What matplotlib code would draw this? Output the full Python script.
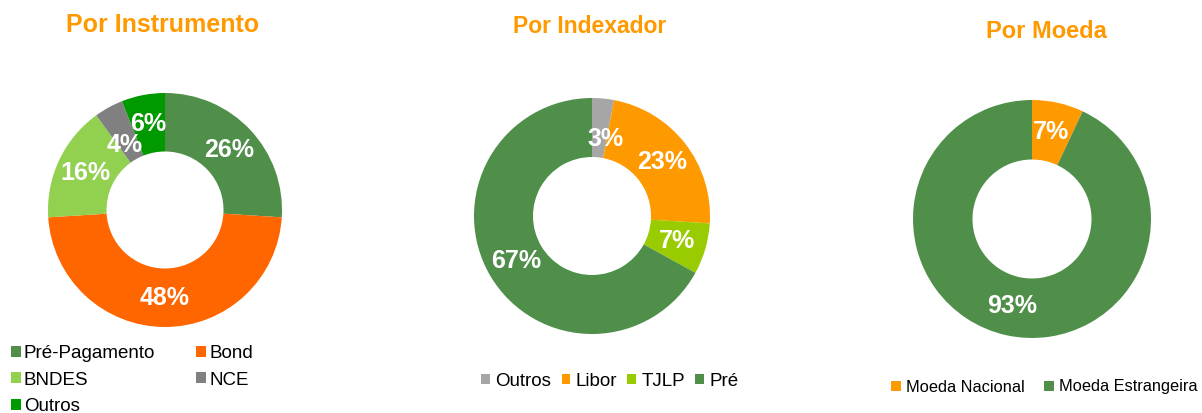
import matplotlib
matplotlib.use('Agg')
import matplotlib.pyplot as plt

plt.rcParams['font.family'] = ['Liberation Sans', 'DejaVu Sans']

# data
instr_labels = ['Pré-Pagamento', 'Bond', 'BNDES', 'NCE', 'Outros']
instr_values = [26, 48, 16, 4, 6]
instr_colors = ['#4F8F4A', '#FF6600', '#92D050', '#808080', '#009900']

index_labels = ['Outros', 'Libor', 'TJLP', 'Pré']
index_values = [3, 23, 7, 67]
index_colors = ['#A6A6A6', '#FF9900', '#99CC00', '#4F8F4A']

moeda_labels = ['Moeda Nacional', 'Moeda Estrangeira']
moeda_values = [7, 93]
moeda_colors = ['#FF9900', '#4F8F4A']

W, H = 1202, 413
fig = plt.figure(figsize=(W / 100, H / 100), dpi=100)
TITLE_C = '#FF9900'


def donut(cx, cy, r, values, colors, title, tx, ty, tsize):
    ax = fig.add_axes([(cx - r) / W, (H - cy - r) / H, 2 * r / W, 2 * r / H])
    wedges, _, autotexts = ax.pie(values, colors=colors, startangle=90, counterclock=False,
                                  radius=1, autopct='%1.0f%%', pctdistance=0.75,
                                  wedgeprops=dict(width=0.5, edgecolor='none'),
                                  textprops=dict(color='white', fontsize=18, fontweight='bold'))
    ax.set_xlim(-1, 1)
    ax.set_ylim(-1, 1)
    ax.set_aspect('equal')
    ax.axis('off')
    fig.text(tx / W, 1 - ty / H, title, color=TITLE_C, fontsize=tsize, fontweight='bold',
             ha='center', va='baseline')
    return ax, wedges, autotexts


ax1, w1, t1 = donut(165, 210, 117, instr_values, instr_colors, 'Por Instrumento', 163, 32, 18)
# small label at the top is pushed down a bit, like in Excel
x, y = t1[3].get_position()
t1[3].set_position((x + 0.02, y - 0.1))
# legend is row-major in the original: reorder for matplotlib's column filling
order = [0, 2, 4, 1, 3]
fig.legend([w1[i] for i in order], [instr_labels[i] for i in order], loc='upper left',
           bbox_to_anchor=(11 / W, 1 - 345 / H), ncol=2,
           frameon=False, fontsize=13.5, handlelength=0.53, handleheight=0.53, handletextpad=0.15,
           columnspacing=2.2, labelspacing=0.51, borderaxespad=0, borderpad=0)

ax2, w2, t2 = donut(592, 216, 118, index_values, index_colors, 'Por Indexador', 589.5, 33, 16.5)
x, y = t2[0].get_position()
t2[0].set_position((x + 0.04, y - 0.09))
fig.legend(w2, index_labels, loc='center', bbox_to_anchor=(610 / W, 1 - 381 / H), ncol=4,
           frameon=False, fontsize=13.5, handlelength=0.45, handleheight=0.45, handletextpad=0.3,
           columnspacing=0.55, borderaxespad=0, borderpad=0)

ax3, w3, t3 = donut(1032, 219, 119, moeda_values, moeda_colors, 'Por Moeda', 1046, 38, 17)
fig.legend(w3, moeda_labels, loc='center', bbox_to_anchor=(1044 / W, 1 - 387 / H), ncol=2,
           frameon=False, fontsize=11.8, handlelength=0.6, handleheight=0.6, handletextpad=0.3,
           columnspacing=1.2, borderaxespad=0)

plt.savefig('out.png', dpi=100)
